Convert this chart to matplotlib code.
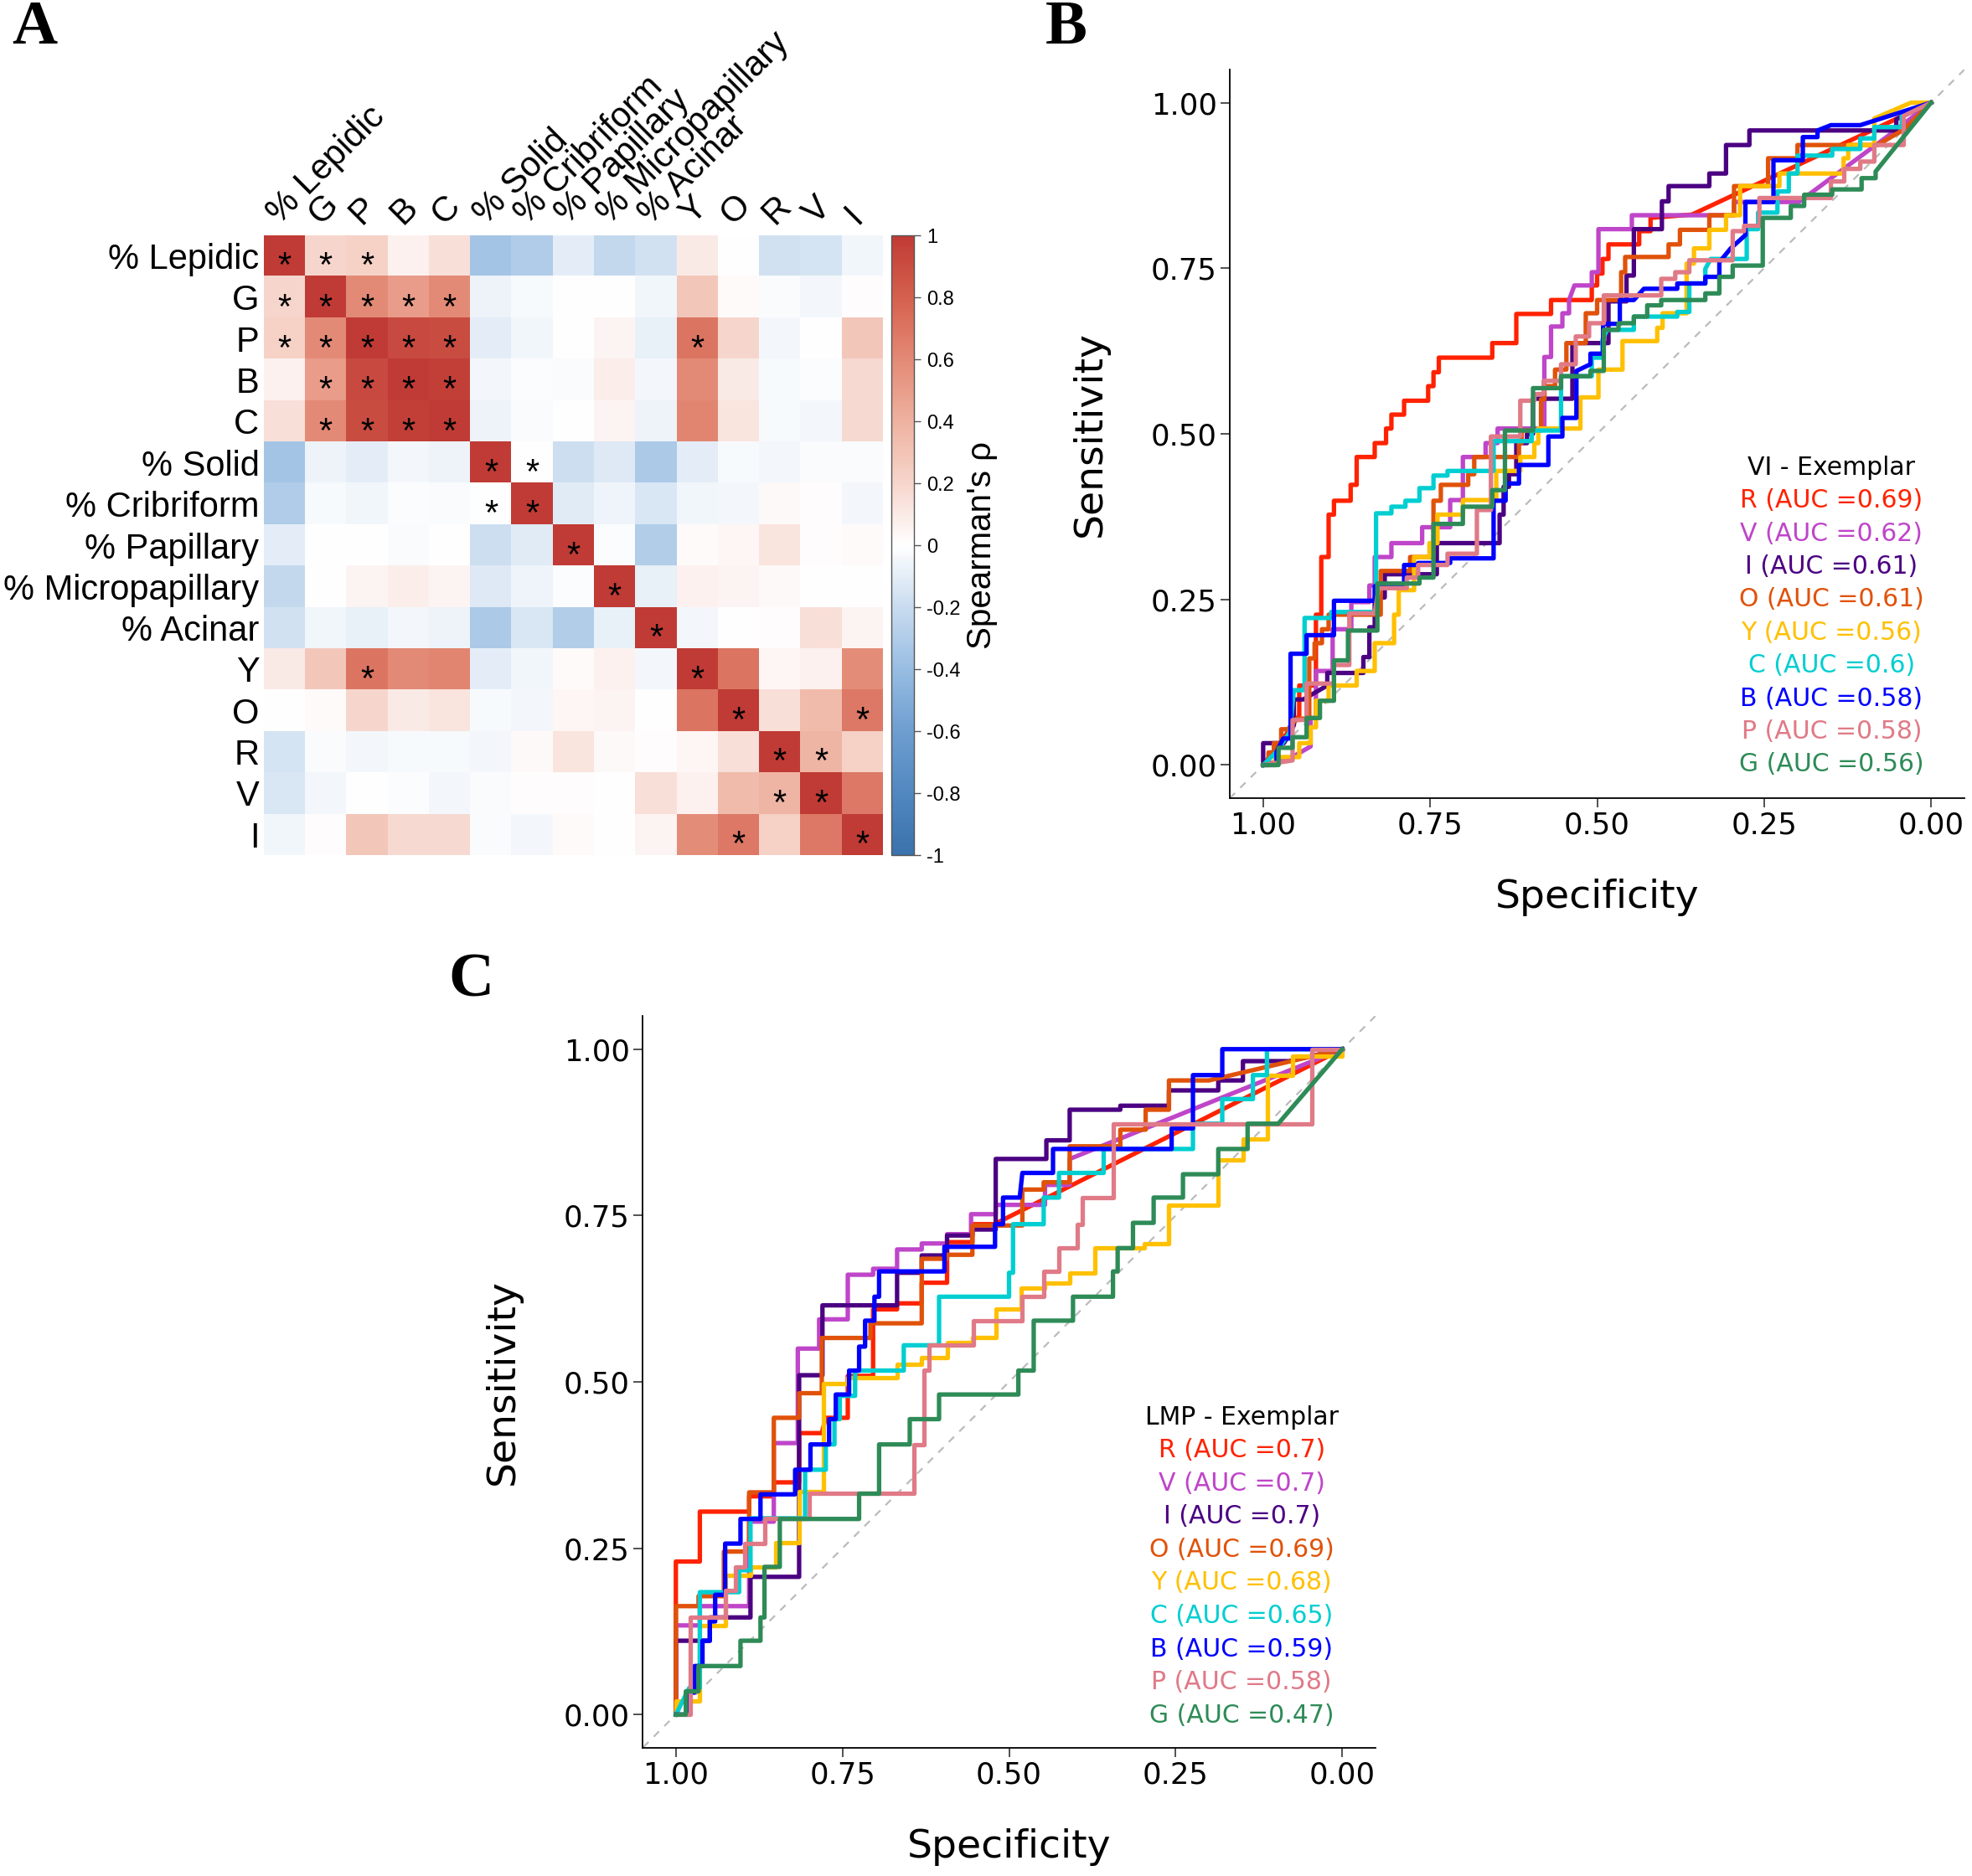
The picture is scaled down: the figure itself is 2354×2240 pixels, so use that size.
import numpy as np
import matplotlib
matplotlib.use("Agg")
import matplotlib.pyplot as plt
from matplotlib.colors import LinearSegmentedColormap

# ---------------- Panel A data ----------------
labels = ["% Lepidic", "G", "P", "B", "C", "% Solid", "% Cribriform", "% Papillary",
          "% Micropapillary", "% Acinar", "Y", "O", "R", "V", "I"]
rho = [
    [1.00, 0.20, 0.22, 0.07, 0.15, -0.35, -0.30, -0.10, -0.22, -0.17, 0.10, 0.00, -0.17, -0.15, -0.05],
    [0.20, 1.00, 0.60, 0.50, 0.60, -0.07, -0.03, 0.00, 0.00, -0.05, 0.28, 0.02, -0.02, -0.04, 0.01],
    [0.22, 0.60, 1.00, 0.92, 0.90, -0.10, -0.05, 0.00, 0.05, -0.08, 0.70, 0.20, -0.04, 0.00, 0.28],
    [0.07, 0.50, 0.92, 1.00, 0.97, -0.04, -0.01, -0.02, 0.08, -0.04, 0.60, 0.10, -0.03, -0.01, 0.18],
    [0.15, 0.60, 0.90, 0.97, 1.00, -0.07, -0.02, 0.00, 0.05, -0.07, 0.62, 0.13, -0.03, -0.04, 0.18],
    [-0.35, -0.07, -0.10, -0.04, -0.07, 1.00, 0.00, -0.18, -0.12, -0.32, -0.10, -0.03, -0.04, -0.02, -0.02],
    [-0.30, -0.03, -0.05, -0.01, -0.02, 0.00, 1.00, -0.11, -0.06, -0.14, -0.05, -0.04, 0.03, 0.01, -0.04],
    [-0.10, 0.00, 0.00, -0.02, 0.00, -0.18, -0.11, 1.00, -0.01, -0.29, 0.02, 0.04, 0.13, 0.01, 0.02],
    [-0.22, 0.00, 0.05, 0.08, 0.05, -0.12, -0.06, -0.01, 1.00, -0.08, 0.07, 0.05, 0.03, 0.00, 0.00],
    [-0.17, -0.05, -0.08, -0.04, -0.07, -0.32, -0.14, -0.29, -0.08, 1.00, -0.04, 0.00, 0.01, 0.15, 0.05],
    [0.10, 0.28, 0.70, 0.60, 0.62, -0.10, -0.05, 0.02, 0.07, -0.04, 1.00, 0.70, 0.04, 0.07, 0.58],
    [0.00, 0.02, 0.20, 0.10, 0.13, -0.03, -0.04, 0.04, 0.05, 0.00, 0.70, 1.00, 0.15, 0.35, 0.68],
    [-0.15, -0.02, -0.04, -0.03, -0.03, -0.04, 0.03, 0.13, 0.03, 0.01, 0.04, 0.15, 1.00, 0.38, 0.22],
    [-0.14, -0.04, 0.00, -0.01, -0.04, -0.02, 0.01, 0.01, 0.00, 0.15, 0.07, 0.35, 0.38, 1.00, 0.68],
    [-0.05, 0.01, 0.28, 0.18, 0.18, -0.02, -0.04, 0.02, 0.00, 0.05, 0.58, 0.68, 0.22, 0.68, 1.00],
]
stars = [(0, 0), (0, 1), (0, 2), (1, 0), (1, 1), (1, 2), (1, 3), (1, 4),
         (2, 0), (2, 1), (2, 2), (2, 3), (2, 4), (2, 10),
         (3, 1), (3, 2), (3, 3), (3, 4), (4, 1), (4, 2), (4, 3), (4, 4),
         (5, 5), (5, 6), (6, 5), (6, 6), (7, 7), (8, 8), (9, 9),
         (10, 2), (10, 10), (11, 11), (11, 14), (12, 12), (12, 13),
         (13, 12), (13, 13), (14, 11), (14, 14)]
cbar_ticks = [-1, -0.8, -0.6, -0.4, -0.2, 0, 0.2, 0.4, 0.6, 0.8, 1]
cbar_ticklabels = ["-1", "-0.8", "-0.6", "-0.4", "-0.2", "0", "0.2", "0.4", "0.6", "0.8", "1"]

# ---------------- Panel B data (fpr = 1 - specificity) ----------------
vi_names = ["R", "V", "I", "O", "Y", "C", "B", "P", "G"]
vi_auc = ["0.69", "0.62", "0.61", "0.61", "0.56", "0.6", "0.58", "0.58", "0.56"]
vi_R_fpr = [0, 0.03, 0.054, 0.054, 0.079, 0.079, 0.087, 0.087, 0.098, 0.098, 0.106, 0.106, 0.131, 0.131, 0.140, 0.140, 0.167, 0.167, 0.184, 0.184, 0.192, 0.192, 0.211, 0.211, 0.247, 0.247, 0.255, 0.255, 0.263, 0.263, 0.343, 0.343, 0.379, 0.379, 0.431, 0.431, 0.492, 0.492, 0.50, 0.50, 0.508, 0.508, 0.517, 0.517, 0.563, 0.563, 0.580, 0.580, 0.642, 1]
vi_R_sen = [0, 0.04, 0.075, 0.12, 0.12, 0.227, 0.227, 0.314, 0.314, 0.378, 0.378, 0.399, 0.399, 0.423, 0.423, 0.465, 0.465, 0.486, 0.486, 0.508, 0.508, 0.529, 0.529, 0.55, 0.55, 0.572, 0.572, 0.593, 0.593, 0.615, 0.615, 0.637, 0.637, 0.681, 0.681, 0.702, 0.702, 0.724, 0.724, 0.742, 0.742, 0.764, 0.764, 0.786, 0.786, 0.806, 0.806, 0.826, 0.831, 1]
vi_V_fpr = [0, 0.04, 0.071, 0.071, 0.079, 0.079, 0.104, 0.104, 0.132, 0.132, 0.159, 0.159, 0.167, 0.167, 0.192, 0.192, 0.238, 0.238, 0.280, 0.280, 0.299, 0.299, 0.333, 0.333, 0.351, 0.351, 0.421, 0.421, 0.431, 0.431, 0.448, 0.448, 0.458, 0.458, 0.466, 0.492, 0.492, 0.502, 0.502, 0.552, 0.552, 0.705, 0.705, 0.802, 0.944, 1]
vi_V_sen = [0, 0.01, 0.028, 0.071, 0.071, 0.142, 0.142, 0.205, 0.205, 0.246, 0.246, 0.271, 0.271, 0.314, 0.314, 0.335, 0.335, 0.359, 0.359, 0.40, 0.40, 0.465, 0.465, 0.486, 0.486, 0.508, 0.508, 0.616, 0.616, 0.662, 0.662, 0.682, 0.682, 0.702, 0.724, 0.724, 0.744, 0.744, 0.809, 0.809, 0.830, 0.830, 0.850, 0.850, 0.956, 1]
vi_I_fpr = [0, 0, 0.031, 0.046, 0.046, 0.06, 0.096, 0.096, 0.15, 0.15, 0.159, 0.159, 0.167, 0.167, 0.182, 0.182, 0.26, 0.26, 0.354, 0.354, 0.36, 0.36, 0.368, 0.368, 0.379, 0.379, 0.395, 0.395, 0.404, 0.404, 0.463, 0.463, 0.517, 0.517, 0.544, 0.544, 0.555, 0.555, 0.597, 0.597, 0.607, 0.607, 0.668, 0.668, 0.693, 0.693, 0.728, 0.728, 0.948, 0.948, 1]
vi_I_sen = [0, 0.033, 0.033, 0.06, 0.099, 0.099, 0.12, 0.139, 0.139, 0.163, 0.163, 0.208, 0.208, 0.253, 0.253, 0.288, 0.288, 0.335, 0.335, 0.378, 0.378, 0.42, 0.42, 0.439, 0.439, 0.486, 0.486, 0.50, 0.50, 0.553, 0.553, 0.637, 0.637, 0.70, 0.70, 0.739, 0.739, 0.809, 0.809, 0.851, 0.851, 0.874, 0.874, 0.893, 0.893, 0.936, 0.936, 0.958, 0.958, 0.975, 1]
vi_O_fpr = [0, 0.008, 0.008, 0.016, 0.016, 0.027, 0.027, 0.037, 0.05, 0.069, 0.069, 0.077, 0.077, 0.088, 0.088, 0.098, 0.098, 0.176, 0.176, 0.220, 0.220, 0.255, 0.255, 0.266, 0.266, 0.307, 0.307, 0.316, 0.316, 0.383, 0.383, 0.387, 0.387, 0.416, 0.416, 0.421, 0.421, 0.437, 0.437, 0.454, 0.454, 0.483, 0.483, 0.5, 0.5, 0.536, 0.536, 0.542, 0.542, 0.607, 0.607, 0.624, 0.624, 0.668, 0.668, 0.705, 0.705, 0.756, 0.756, 0.8, 0.8, 0.92, 0.96, 1]
vi_O_sen = [0, 0, 0.019, 0.019, 0.033, 0.033, 0.054, 0.054, 0.07, 0.07, 0.161, 0.161, 0.184, 0.184, 0.205, 0.205, 0.227, 0.227, 0.293, 0.293, 0.314, 0.314, 0.399, 0.399, 0.423, 0.423, 0.439, 0.439, 0.465, 0.465, 0.486, 0.486, 0.505, 0.505, 0.552, 0.552, 0.572, 0.572, 0.597, 0.597, 0.637, 0.637, 0.682, 0.682, 0.702, 0.702, 0.744, 0.744, 0.767, 0.767, 0.786, 0.786, 0.808, 0.808, 0.830, 0.830, 0.874, 0.874, 0.916, 0.916, 0.936, 0.936, 0.96, 1]
vi_Y_fpr = [0, 0.018, 0.018, 0.054, 0.054, 0.071, 0.071, 0.079, 0.079, 0.098, 0.098, 0.14, 0.14, 0.167, 0.167, 0.196, 0.196, 0.203, 0.203, 0.226, 0.226, 0.249, 0.249, 0.261, 0.261, 0.299, 0.299, 0.349, 0.349, 0.385, 0.385, 0.406, 0.406, 0.412, 0.412, 0.475, 0.475, 0.502, 0.502, 0.538, 0.538, 0.59, 0.59, 0.598, 0.598, 0.634, 0.634, 0.645, 0.645, 0.668, 0.668, 0.693, 0.693, 0.714, 0.714, 0.773, 0.773, 0.869, 0.869, 0.876, 0.876, 0.915, 0.915, 0.97, 1]
vi_Y_sen = [0, 0, 0.012, 0.012, 0.033, 0.033, 0.057, 0.057, 0.097, 0.097, 0.12, 0.12, 0.142, 0.142, 0.184, 0.184, 0.227, 0.227, 0.264, 0.264, 0.314, 0.314, 0.335, 0.335, 0.378, 0.378, 0.40, 0.40, 0.444, 0.444, 0.465, 0.465, 0.486, 0.486, 0.508, 0.508, 0.555, 0.555, 0.597, 0.597, 0.64, 0.64, 0.66, 0.66, 0.682, 0.682, 0.757, 0.757, 0.78, 0.78, 0.808, 0.808, 0.83, 0.83, 0.874, 0.874, 0.893, 0.893, 0.916, 0.916, 0.936, 0.936, 0.976, 1.0, 1]
vi_C_fpr = [0, 0.02, 0.04, 0.046, 0.062, 0.062, 0.102, 0.102, 0.169, 0.169, 0.192, 0.192, 0.213, 0.213, 0.234, 0.234, 0.255, 0.255, 0.276, 0.276, 0.345, 0.345, 0.402, 0.402, 0.446, 0.446, 0.492, 0.492, 0.508, 0.508, 0.515, 0.555, 0.555, 0.62, 0.62, 0.638, 0.638, 0.662, 0.662, 0.67, 0.724, 0.724, 0.741, 0.741, 0.77, 0.77, 0.787, 0.787, 0.8, 0.8, 0.852, 0.852, 0.894, 0.894, 0.915, 0.915, 0.956, 0.956, 1]
vi_C_sen = [0, 0.02, 0.05, 0.113, 0.113, 0.222, 0.222, 0.231, 0.231, 0.38, 0.38, 0.39, 0.39, 0.399, 0.399, 0.418, 0.418, 0.437, 0.437, 0.444, 0.444, 0.489, 0.489, 0.505, 0.505, 0.587, 0.587, 0.615, 0.615, 0.642, 0.657, 0.657, 0.677, 0.677, 0.684, 0.684, 0.727, 0.727, 0.749, 0.764, 0.764, 0.809, 0.809, 0.834, 0.834, 0.866, 0.866, 0.893, 0.893, 0.92, 0.92, 0.93, 0.93, 0.946, 0.946, 0.963, 0.963, 0.98, 1]
vi_B_fpr = [0, 0.02, 0.02, 0.03, 0.041, 0.041, 0.065, 0.065, 0.106, 0.106, 0.167, 0.167, 0.211, 0.211, 0.232, 0.232, 0.28, 0.28, 0.345, 0.345, 0.363, 0.363, 0.383, 0.383, 0.427, 0.427, 0.448, 0.448, 0.469, 0.469, 0.49, 0.49, 0.509, 0.509, 0.534, 0.534, 0.555, 0.57, 0.62, 0.62, 0.662, 0.662, 0.683, 0.683, 0.70, 0.722, 0.722, 0.764, 0.764, 0.808, 0.808, 0.83, 0.83, 0.85, 0.894, 1]
vi_B_sen = [0, 0, 0.02, 0.04, 0.04, 0.168, 0.168, 0.196, 0.196, 0.248, 0.248, 0.27, 0.27, 0.302, 0.302, 0.305, 0.305, 0.312, 0.312, 0.399, 0.399, 0.425, 0.425, 0.453, 0.453, 0.496, 0.496, 0.524, 0.524, 0.595, 0.605, 0.621, 0.621, 0.666, 0.666, 0.702, 0.702, 0.719, 0.719, 0.727, 0.727, 0.737, 0.737, 0.759, 0.78, 0.8, 0.85, 0.85, 0.913, 0.913, 0.948, 0.948, 0.958, 0.966, 0.966, 1]
vi_P_fpr = [0, 0.044, 0.044, 0.065, 0.065, 0.106, 0.106, 0.129, 0.129, 0.167, 0.173, 0.215, 0.215, 0.232, 0.232, 0.276, 0.276, 0.32, 0.32, 0.341, 0.341, 0.385, 0.385, 0.406, 0.406, 0.42, 0.42, 0.446, 0.446, 0.468, 0.468, 0.488, 0.488, 0.51, 0.51, 0.596, 0.596, 0.617, 0.617, 0.638, 0.638, 0.703, 0.703, 0.72, 0.72, 0.743, 0.743, 0.85, 0.85, 0.87, 0.87, 0.894, 0.894, 0.915, 0.915, 0.959, 0.959, 1]
vi_P_sen = [0, 0.007, 0.068, 0.068, 0.123, 0.123, 0.151, 0.151, 0.229, 0.229, 0.267, 0.267, 0.283, 0.283, 0.302, 0.302, 0.319, 0.319, 0.385, 0.385, 0.496, 0.496, 0.55, 0.55, 0.56, 0.56, 0.58, 0.58, 0.605, 0.605, 0.647, 0.647, 0.667, 0.667, 0.709, 0.709, 0.734, 0.734, 0.744, 0.744, 0.762, 0.762, 0.806, 0.806, 0.814, 0.814, 0.856, 0.856, 0.881, 0.881, 0.90, 0.90, 0.911, 0.911, 0.936, 0.936, 0.98, 1]
vi_G_fpr = [0, 0.023, 0.023, 0.044, 0.044, 0.065, 0.065, 0.085, 0.085, 0.106, 0.106, 0.127, 0.127, 0.171, 0.171, 0.234, 0.234, 0.255, 0.255, 0.299, 0.299, 0.343, 0.343, 0.362, 0.362, 0.404, 0.404, 0.446, 0.446, 0.49, 0.49, 0.51, 0.51, 0.532, 0.532, 0.555, 0.555, 0.575, 0.575, 0.596, 0.596, 0.662, 0.662, 0.683, 0.683, 0.703, 0.703, 0.748, 0.748, 0.79, 0.79, 0.81, 0.81, 0.852, 0.852, 0.896, 0.896, 0.917, 0.917, 1]
vi_G_sen = [0, 0, 0.026, 0.026, 0.042, 0.042, 0.071, 0.071, 0.097, 0.097, 0.158, 0.158, 0.203, 0.203, 0.274, 0.274, 0.283, 0.283, 0.364, 0.364, 0.39, 0.39, 0.415, 0.415, 0.505, 0.505, 0.569, 0.569, 0.587, 0.587, 0.595, 0.595, 0.657, 0.657, 0.667, 0.667, 0.677, 0.677, 0.694, 0.694, 0.702, 0.702, 0.712, 0.712, 0.737, 0.737, 0.754, 0.754, 0.826, 0.826, 0.844, 0.844, 0.861, 0.861, 0.869, 0.869, 0.886, 0.886, 0.896, 1]

# ---------------- Panel C data (fpr = 1 - specificity) ----------------
lmp_names = ["R", "V", "I", "O", "Y", "C", "B", "P", "G"]
lmp_auc = ["0.7", "0.7", "0.7", "0.69", "0.68", "0.65", "0.59", "0.58", "0.47"]
lmp_R_fpr = [0, 0, 0.036, 0.036, 0.11, 0.11, 0.147, 0.147, 0.185, 0.185, 0.219, 0.225, 0.258, 0.258, 0.296, 0.296, 0.332, 0.332, 0.369, 0.369, 0.407, 0.407, 0.445, 0.445, 0.478, 1]
lmp_R_sen = [0, 0.23, 0.23, 0.305, 0.305, 0.328, 0.328, 0.349, 0.349, 0.423, 0.423, 0.446, 0.446, 0.509, 0.509, 0.609, 0.609, 0.618, 0.618, 0.649, 0.649, 0.71, 0.71, 0.737, 0.737, 1]
lmp_V_fpr = [0, 0, 0.036, 0.036, 0.11, 0.11, 0.147, 0.147, 0.183, 0.183, 0.215, 0.215, 0.258, 0.258, 0.296, 0.296, 0.332, 0.332, 0.369, 0.369, 0.407, 0.407, 0.443, 0.443, 0.48, 0.48, 0.554, 0.554, 0.591, 0.591, 1]
lmp_V_sen = [0, 0.134, 0.134, 0.163, 0.163, 0.29, 0.29, 0.408, 0.408, 0.55, 0.55, 0.594, 0.594, 0.661, 0.661, 0.67, 0.67, 0.699, 0.699, 0.708, 0.708, 0.722, 0.722, 0.752, 0.752, 0.766, 0.766, 0.796, 0.796, 0.835, 1]
lmp_I_fpr = [0, 0, 0.051, 0.051, 0.112, 0.112, 0.185, 0.185, 0.22, 0.22, 0.332, 0.332, 0.369, 0.369, 0.407, 0.407, 0.445, 0.445, 0.48, 0.48, 0.556, 0.556, 0.591, 0.591, 0.667, 0.667, 0.74, 0.74, 0.814, 0.814, 0.851, 0.851, 0.92, 1]
lmp_I_sen = [0, 0.111, 0.111, 0.146, 0.146, 0.207, 0.207, 0.51, 0.51, 0.615, 0.615, 0.664, 0.664, 0.69, 0.69, 0.72, 0.72, 0.729, 0.729, 0.835, 0.835, 0.863, 0.863, 0.909, 0.909, 0.915, 0.915, 0.938, 0.938, 0.953, 0.953, 0.982, 0.982, 1]
lmp_O_fpr = [0, 0, 0.034, 0.034, 0.072, 0.072, 0.11, 0.11, 0.147, 0.147, 0.185, 0.185, 0.219, 0.219, 0.292, 0.292, 0.369, 0.369, 0.407, 0.407, 0.445, 0.445, 0.52, 0.52, 0.552, 0.552, 0.591, 0.591, 0.667, 0.667, 0.705, 0.705, 0.74, 0.74, 0.80, 1]
lmp_O_sen = [0, 0.163, 0.163, 0.178, 0.178, 0.245, 0.245, 0.334, 0.334, 0.446, 0.446, 0.483, 0.483, 0.566, 0.566, 0.588, 0.588, 0.685, 0.685, 0.691, 0.691, 0.735, 0.735, 0.789, 0.789, 0.80, 0.80, 0.854, 0.854, 0.879, 0.879, 0.909, 0.909, 0.953, 0.953, 1]
lmp_Y_fpr = [0, 0, 0.036, 0.036, 0.074, 0.074, 0.112, 0.112, 0.15, 0.15, 0.185, 0.185, 0.221, 0.221, 0.258, 0.258, 0.332, 0.332, 0.369, 0.369, 0.407, 0.407, 0.445, 0.445, 0.48, 0.48, 0.518, 0.518, 0.554, 0.554, 0.591, 0.591, 0.629, 0.629, 0.703, 0.703, 0.74, 0.74, 0.814, 0.814, 0.851, 0.851, 0.888, 0.888, 0.926, 0.926, 1, 1]
lmp_Y_sen = [0, 0.02, 0.02, 0.134, 0.134, 0.209, 0.209, 0.222, 0.222, 0.258, 0.258, 0.335, 0.335, 0.498, 0.498, 0.506, 0.506, 0.527, 0.527, 0.536, 0.536, 0.559, 0.559, 0.567, 0.567, 0.609, 0.609, 0.641, 0.641, 0.649, 0.649, 0.664, 0.664, 0.701, 0.701, 0.708, 0.708, 0.766, 0.766, 0.833, 0.833, 0.865, 0.865, 0.961, 0.961, 0.99, 0.99, 1]
lmp_C_fpr = [0, 0.02, 0.036, 0.036, 0.095, 0.095, 0.112, 0.112, 0.194, 0.194, 0.225, 0.225, 0.238, 0.238, 0.246, 0.246, 0.269, 0.269, 0.342, 0.342, 0.395, 0.395, 0.5, 0.5, 0.506, 0.506, 0.552, 0.552, 0.575, 0.575, 0.642, 0.642, 0.776, 0.776, 0.82, 0.82, 0.866, 0.866, 0.887, 0.887, 1]
lmp_C_sen = [0, 0.04, 0.04, 0.184, 0.184, 0.217, 0.217, 0.295, 0.295, 0.368, 0.368, 0.406, 0.406, 0.444, 0.444, 0.479, 0.479, 0.517, 0.517, 0.555, 0.555, 0.628, 0.628, 0.664, 0.664, 0.737, 0.737, 0.777, 0.777, 0.814, 0.814, 0.85, 0.85, 0.888, 0.888, 0.925, 0.925, 0.961, 0.961, 1.0, 1]
lmp_B_fpr = [0, 0.02, 0.02, 0.028, 0.028, 0.04, 0.04, 0.051, 0.051, 0.059, 0.059, 0.074, 0.074, 0.097, 0.097, 0.127, 0.127, 0.179, 0.179, 0.202, 0.202, 0.23, 0.23, 0.24, 0.24, 0.26, 0.26, 0.275, 0.275, 0.284, 0.284, 0.298, 0.298, 0.305, 0.305, 0.403, 0.403, 0.479, 0.479, 0.491, 0.491, 0.516, 0.52, 0.566, 0.566, 0.744, 0.744, 0.776, 0.776, 0.82, 0.82, 1]
lmp_B_sen = [0, 0, 0.033, 0.033, 0.073, 0.073, 0.111, 0.111, 0.14, 0.14, 0.18, 0.18, 0.257, 0.257, 0.294, 0.294, 0.331, 0.331, 0.368, 0.368, 0.406, 0.406, 0.444, 0.444, 0.481, 0.481, 0.517, 0.517, 0.553, 0.553, 0.592, 0.592, 0.628, 0.628, 0.666, 0.666, 0.703, 0.703, 0.737, 0.737, 0.777, 0.777, 0.814, 0.814, 0.85, 0.85, 0.881, 0.881, 0.961, 0.961, 1.0, 1]
lmp_P_fpr = [0, 0.022, 0.022, 0.075, 0.075, 0.089, 0.089, 0.103, 0.103, 0.133, 0.133, 0.2, 0.2, 0.357, 0.357, 0.372, 0.372, 0.38, 0.38, 0.447, 0.447, 0.52, 0.52, 0.552, 0.552, 0.575, 0.575, 0.602, 0.602, 0.61, 0.61, 0.656, 0.656, 0.954, 0.954, 1]
lmp_P_sen = [0, 0, 0.146, 0.146, 0.186, 0.186, 0.222, 0.222, 0.257, 0.257, 0.295, 0.295, 0.332, 0.332, 0.406, 0.406, 0.517, 0.517, 0.555, 0.555, 0.592, 0.592, 0.628, 0.628, 0.666, 0.666, 0.701, 0.701, 0.737, 0.737, 0.777, 0.777, 0.888, 0.888, 1.0, 1]
lmp_G_fpr = [0, 0.015, 0.015, 0.034, 0.034, 0.097, 0.097, 0.127, 0.127, 0.133, 0.133, 0.156, 0.156, 0.275, 0.275, 0.305, 0.305, 0.351, 0.351, 0.395, 0.395, 0.514, 0.514, 0.537, 0.537, 0.596, 0.596, 0.656, 0.656, 0.663, 0.663, 0.686, 0.686, 0.717, 0.717, 0.761, 0.761, 0.814, 0.814, 0.858, 0.858, 0.904, 1]
lmp_G_sen = [0, 0, 0.035, 0.035, 0.073, 0.073, 0.111, 0.111, 0.146, 0.146, 0.222, 0.222, 0.294, 0.294, 0.332, 0.332, 0.406, 0.406, 0.444, 0.444, 0.481, 0.481, 0.517, 0.517, 0.592, 0.592, 0.628, 0.628, 0.666, 0.666, 0.701, 0.701, 0.739, 0.739, 0.777, 0.777, 0.812, 0.812, 0.85, 0.85, 0.888, 0.888, 1]

curve_colors = {"R": "#FF2200", "V": "#BF45C9", "I": "#4B0082", "O": "#E0520A",
                "Y": "#FFC000", "C": "#00CED1", "B": "#0000FF", "P": "#E07A87", "G": "#2E8B57"}
roc_ticks = [1.00, 0.75, 0.50, 0.25, 0.00]

# ---------------- Figure ----------------
W, H = 2354, 2240
fig = plt.figure(figsize=(W / 100, H / 100), dpi=100)

def fr(x0, y0, x1, y1):
    return [x0 / W, 1 - y1 / H, (x1 - x0) / W, (y1 - y0) / H]

cmap = LinearSegmentedColormap.from_list(
    "corr", [(0.0, "#3A72AD"), (0.1, "#5288C0"), (0.2, "#6E9ED0"), (0.3, "#98BDE2"),
             (0.4, "#C9DCEF"), (0.5, "#FFFFFF"), (0.6, "#F6D6CC"), (0.7, "#EEB2A0"),
             (0.8, "#E38A76"), (0.9, "#D5614F"), (1.0, "#C03B35")])

sans = ["Liberation Sans", "DejaVu Sans"]

axA = fig.add_axes(fr(315, 281, 1054, 1021))
M = np.array(rho)
n = len(labels)
im = axA.imshow(M, cmap=cmap, vmin=-1, vmax=1, aspect="auto",
                extent=(-0.5, n - 0.5, n - 0.5, -0.5), interpolation="nearest")
for (r, c) in stars:
    axA.text(c, r + 0.28, "*", ha="center", va="center", fontsize=30,
             family=sans, color="black")
axA.xaxis.tick_top()
axA.set_xticks(range(n))
axA.set_xticklabels(labels, rotation=45, ha="left", va="bottom",
                    rotation_mode="anchor", fontsize=30, family=sans)
axA.set_yticks(range(n))
axA.set_yticklabels(labels, fontsize=30, family=sans)
axA.tick_params(length=0, pad=4)
for s in axA.spines.values():
    s.set_visible(False)

cax = fig.add_axes(fr(1064, 281, 1091, 1021))
cb = fig.colorbar(im, cax=cax, ticks=cbar_ticks)
cb.ax.set_yticklabels(cbar_ticklabels, fontsize=17, family=sans)
cb.ax.tick_params(length=6, width=1, color="#555555", pad=5)
cb.outline.set_edgecolor("#555555")
cb.outline.set_linewidth(1)
fig.text(1172 / W, 1 - 651 / H, "Spearman's ρ", rotation=90, ha="center", va="center",
         fontsize=29, family=sans)

def roc_panel(ax, names, aucs, data, title, tx, ty):
    ax.axline((1, 0), (0, 1), color="#BBBBBB", ls=(0, (4, 4)), lw=1.6, zorder=1)
    for nm in names:
        fpr, sen = data[nm]
        ax.plot(1 - np.asarray(fpr), sen, color=curve_colors[nm], lw=3.8, zorder=2)
    ax.set_xlim(1.05, -0.05)
    ax.set_ylim(-0.05, 1.05)
    ax.set_xticks(roc_ticks)
    ax.set_yticks(roc_ticks)
    ax.set_xticklabels(["%.2f" % t for t in roc_ticks])
    ax.set_yticklabels(["%.2f" % t for t in roc_ticks])
    ax.tick_params(labelsize=25.5, length=8, width=1.2, color="#333333", pad=3)
    for side in ("top", "right"):
        ax.spines[side].set_visible(False)
    for side in ("left", "bottom"):
        ax.spines[side].set_linewidth(1.3)
    ax.set_xlabel("Specificity", fontsize=34, labelpad=34)
    ax.set_ylabel("Sensitivity", fontsize=34, labelpad=36)
    step = 0.0498
    ax.text(tx, ty, title, ha="center", va="center", fontsize=21.5, color="black", zorder=3)
    for k, (nm, a) in enumerate(zip(names, aucs)):
        ax.text(tx, ty - (k + 1) * step, "%s (AUC =%s)" % (nm, a), ha="center", va="center",
                fontsize=21.5, color=curve_colors[nm], zorder=3)

axB = fig.add_axes(fr(1468, 83, 2345, 953))
vi_data = {"R": (vi_R_fpr, vi_R_sen), "V": (vi_V_fpr, vi_V_sen), "I": (vi_I_fpr, vi_I_sen),
           "O": (vi_O_fpr, vi_O_sen), "Y": (vi_Y_fpr, vi_Y_sen), "C": (vi_C_fpr, vi_C_sen),
           "B": (vi_B_fpr, vi_B_sen), "P": (vi_P_fpr, vi_P_sen), "G": (vi_G_fpr, vi_G_sen)}
roc_panel(axB, vi_names, vi_auc, vi_data, "VI - Exemplar", 0.149, 0.449)

axC = fig.add_axes(fr(767, 1213, 1642, 2087))
lmp_data = {"R": (lmp_R_fpr, lmp_R_sen), "V": (lmp_V_fpr, lmp_V_sen), "I": (lmp_I_fpr, lmp_I_sen),
            "O": (lmp_O_fpr, lmp_O_sen), "Y": (lmp_Y_fpr, lmp_Y_sen), "C": (lmp_C_fpr, lmp_C_sen),
            "B": (lmp_B_fpr, lmp_B_sen), "P": (lmp_P_fpr, lmp_P_sen), "G": (lmp_G_fpr, lmp_G_sen)}
roc_panel(axC, lmp_names, lmp_auc, lmp_data, "LMP - Exemplar", 0.151, 0.447)

letter_kw = dict(fontsize=54, fontweight="bold", family=["Liberation Serif", "DejaVu Serif"],
                 va="top", ha="left")
fig.text(14 / W, 1 - 0 / H, "A", **letter_kw)
fig.text(1248 / W, 1 - 0 / H, "B", **letter_kw)
fig.text(535 / W, 1 - 1138 / H, "C", **letter_kw)

fig.savefig("out.png", dpi=100, facecolor="white")
